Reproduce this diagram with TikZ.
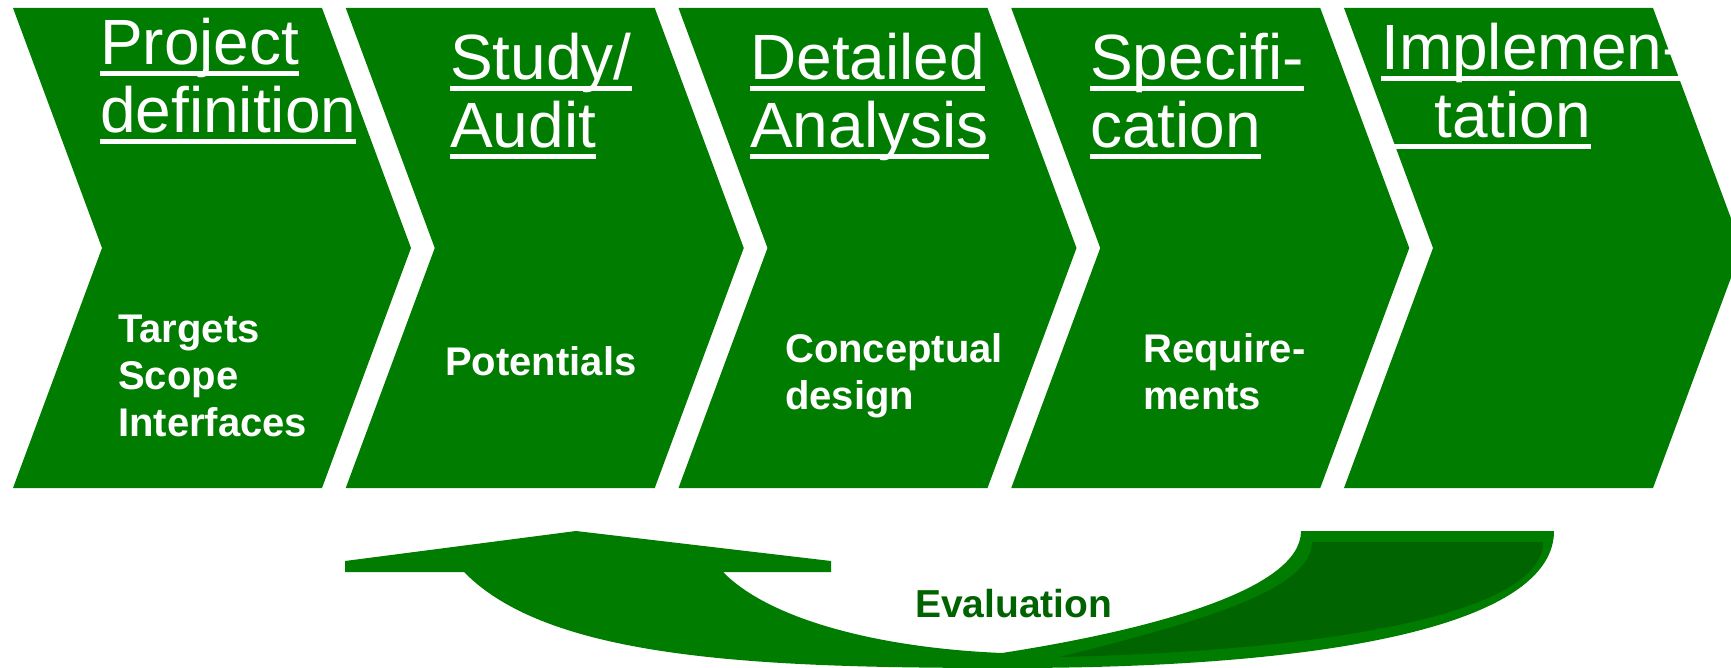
\documentclass[tikz,border=0pt]{standalone}
\usepackage{fontspec}
\setmainfont{Liberation Sans}
\usepackage{xcolor}
\usepackage{tikz}

\definecolor{stepgreen}{RGB}{0,124,0}
\definecolor{backgreen}{RGB}{0,100,0}
\definecolor{evalgreen}{RGB}{0,98,0}

% underline at a fixed depth, through descenders
\newcommand{\hdline}[1]{\setbox0=\hbox{#1}\rlap{\rule[-11pt]{\wd0}{4.5pt}}\box0}

\begin{document}
\begin{tikzpicture}[x=1pt, y=-1pt,
	chev/.style={fill=stepgreen, draw=none},
	head/.style={anchor=base west, inner sep=0, text=white, font=\fontsize{64}{68}\selectfont},
	body/.style={anchor=base west, inner sep=0, text=white, font=\fontsize{40}{47}\selectfont\bfseries}]
	\useasboundingbox (0,0) rectangle (1731,668);
	% Phase chevrons:
	\foreach \i in {0,...,4}{
		\pgfmathsetmacro{\chevx}{13+332.75*\i}
		\fill[chev] (\chevx,8) -- (\chevx+309,8) -- (\chevx+398,248) -- (\chevx+309,488) -- (\chevx,488) -- (\chevx+89,248) -- cycle;
	}
	% Phase titles:
	\node[head] (Head1) at (100,65) {\begin{tabular}[t]{@{}l@{}}\hdline{Project}\\\hdline{definition}\end{tabular}};
	\node[head] (Head2) at (450,80) {\begin{tabular}[t]{@{}l@{}}\hdline{Study/}\\\hdline{Audit}\end{tabular}};
	\node[head] (Head3) at (750,80) {\begin{tabular}[t]{@{}l@{}}\hdline{Detailed}\\\hdline{Analysis}\end{tabular}};
	\node[head] (Head4) at (1090,80) {\begin{tabular}[t]{@{}l@{}}\hdline{Specifi-}\\\hdline{cation}\end{tabular}};
	\node[head] (Head5) at (1381,70) {\begin{tabular}[t]{@{}l@{}}\hdline{Implemen-}\\\hdline{\ \ \ tation}\end{tabular}};
	% Phase results:
	\node[body] (Body1) at (118,342) {\begin{tabular}[t]{@{}l@{}}Targets\\Scope\\Interfaces\end{tabular}};
	\node[body] (Body2) at (445,375) {Potentials};
	\node[body] (Body3) at (785,362) {\begin{tabular}[t]{@{}l@{}}Conceptual\\design\end{tabular}};
	\node[body] (Body4) at (1143,362) {\begin{tabular}[t]{@{}l@{}}Require-\\ments\end{tabular}};
	% Evaluation loop arrow:
	\fill[stepgreen] (345,572) -- (345,561) -- (576,531) -- (831,561) -- (831,572) -- (723,572)
		.. controls (770,620) and (880,648) .. (1002,653)
		.. controls (1150,630) and (1301,590) .. (1301,531)
		-- (1554,531)
		.. controls (1554,620) and (1350,668) .. (1010,668)
		.. controls (760,668) and (550,660) .. (464,572) -- cycle;
	\fill[backgreen] (1312,542) -- (1543,542)
		.. controls (1543,610) and (1350,650) .. (1060,657)
		.. controls (1190,624) and (1312,592) .. (1312,542) -- cycle;
	\node[body, text=evalgreen, font=\fontsize{39}{47}\selectfont\bfseries] (Eval) at (915,617) {Evaluation};
\end{tikzpicture}
\end{document}
